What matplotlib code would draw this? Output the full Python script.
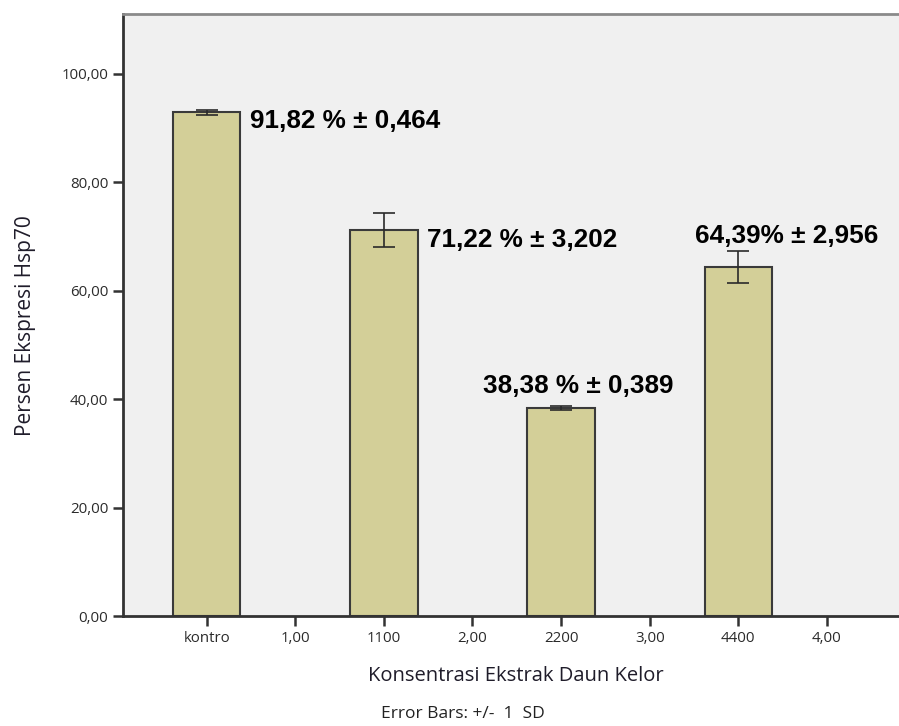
import matplotlib
matplotlib.use("Agg")
import matplotlib.pyplot as plt

# ---- data ----
tick_labels = ["kontro", "1,00", "1100", "2,00", "2200", "3,00", "4400", "4,00"]
bar_categories = ["kontro", "1100", "2200", "4400"]
means = [92.9, 71.2, 38.4, 64.4]
sds = [0.46, 3.2, 0.39, 2.96]
annot_texts = ["91,82 % \u00b1 0,464", "71,22 % \u00b1 3,202",
               "38,38 % \u00b1 0,389", "64,39% \u00b1 2,956"]
y_ticks = [0, 20, 40, 60, 80, 100]

plt.rcParams["font.family"] = ["Open Sans", "DejaVu Sans"]

fig = plt.figure(figsize=(8.99, 7.26), dpi=100)
ax = fig.add_axes([0.1365, 0.1511, 0.8635, 0.8296])
ax.set_facecolor("#f0f0f0")

positions = [tick_labels.index(c) for c in bar_categories]
ax.bar(positions, means, width=0.76, color="#d3cf98", edgecolor="#3a3a3a",
       linewidth=1.5, zorder=2)
ax.errorbar(positions, means, yerr=sds, fmt="none", ecolor="#2a2a2a",
            elinewidth=1.2, capsize=8, capthick=1.2, zorder=3)

ax.set_xlim(-0.948, 7.814)
ax.set_ylim(0, 111)
ax.set_xticks(range(len(tick_labels)))
ax.set_xticklabels(tick_labels)
ax.set_yticks(y_ticks)
ax.set_yticklabels([f"{v:.2f}".replace(".", ",") for v in y_ticks])
ax.tick_params(axis="both", length=7, width=1.8, color="#333333",
               labelsize=10.8, labelcolor="#2a2a2a")

for s in ["left", "bottom"]:
    ax.spines[s].set_color("#333333")
    ax.spines[s].set_linewidth(2)
ax.spines["top"].set_color("#8a8a8a")
ax.spines["top"].set_linewidth(2)
ax.spines["right"].set_visible(False)

# annotations (offsets in points)
offsets = [(7, -6), (7, -7), (12, 16), (35, 22)]
aligns = ["left", "left", "center", "center"]
for p, m, t, off, ha in zip(positions, means, annot_texts, offsets, aligns):
    x = p + 0.38 if ha == "left" else p
    ax.annotate(t, xy=(x, m), xytext=off, textcoords="offset points",
                ha=ha, va="center", fontsize=18.8, fontweight="bold",
                family=["Liberation Sans", "DejaVu Sans"],
                color="black", zorder=4)

ax.set_xlabel("Konsentrasi Ekstrak Daun Kelor", fontsize=14.5,
              color="#1f1c2a")
ax.xaxis.set_label_coords(0.506, -0.083)
ax.set_ylabel("Persen Ekspresi Hsp70", fontsize=15, color="#1f1c2a")
ax.yaxis.set_label_coords(-0.1117, 0.482)
fig.text(0.515, 0.016, "Error Bars: +/-  1  SD", ha="center", va="center",
         fontsize=12.5, color="#222222")

fig.savefig("out.png", dpi=100)
